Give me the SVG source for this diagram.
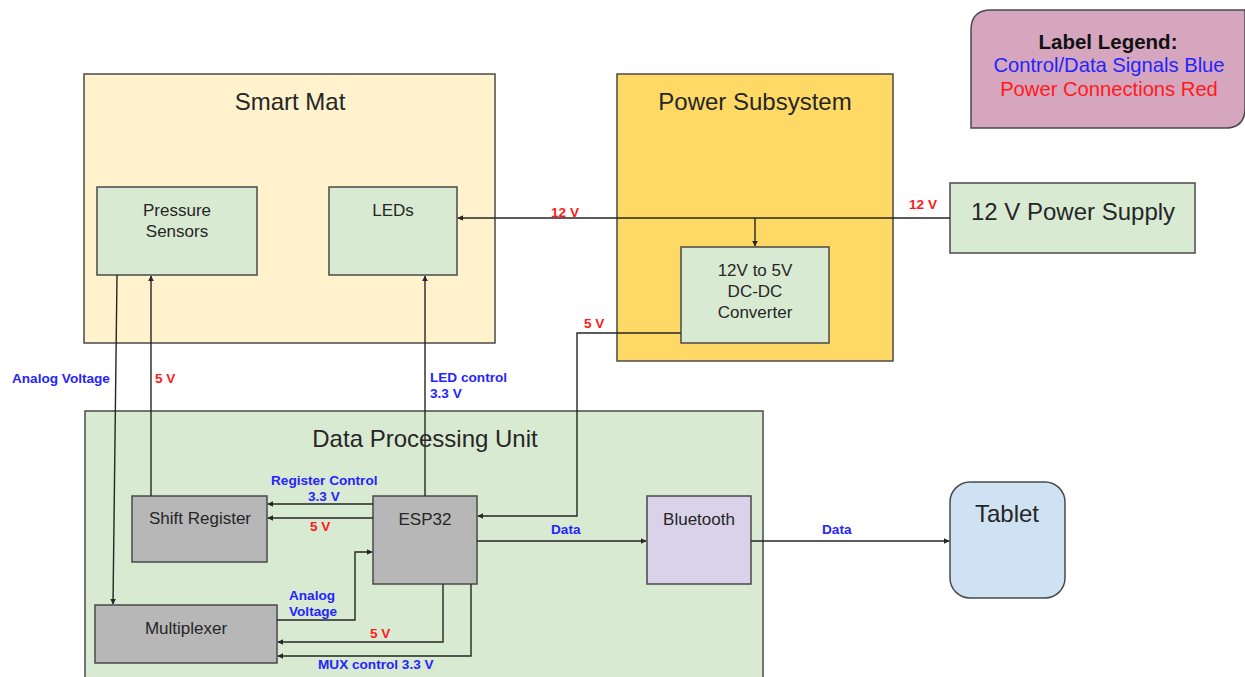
<svg xmlns="http://www.w3.org/2000/svg" width="1245" height="677" viewBox="0 0 1245 677">
<defs>
<style>
.box{stroke:#4a4a4a;stroke-width:1.5}
.t{font-family:"Liberation Sans",Arial,sans-serif;fill:#262626;text-anchor:middle}
.big{font-size:24px}
.mid{font-size:17px}
.lbl{font-family:"Liberation Sans",Arial,sans-serif;font-size:13.6px;font-weight:bold}
.blue{fill:#2424ff}
.red{fill:#ff1a1a}
.w{fill:none;stroke:#262626;stroke-width:1.4}
</style>
<marker id="ah" viewBox="0 0 10 10" refX="9" refY="5" markerWidth="6" markerHeight="6" orient="auto" markerUnits="userSpaceOnUse">
<path d="M0,0 L10,5 L0,10 z" fill="#262626"/>
</marker>
</defs>
<rect width="1245" height="677" fill="#ffffff"/>

<g id="smart-mat">
<rect class="box" x="84" y="74" width="411" height="269" fill="#fff2cc"/>
<text class="t big" x="290" y="110">Smart Mat</text>
</g>
<g id="power-subsystem">
<rect class="box" x="617" y="74" width="276" height="287" fill="#ffd966"/>
<text class="t big" x="755" y="110">Power Subsystem</text>
</g>
<g id="data-processing-unit">
<rect class="box" x="85" y="411" width="678" height="270" fill="#d9ead3"/>
<text class="t big" x="425" y="447">Data Processing Unit</text>
</g>
<g id="legend">
<path class="box" d="M991,10 H1245 V108 Q1245,128 1225,128 H971 V30 Q971,10 991,10 Z" fill="#d5a6bd"/>
<text class="t" x="1108" y="49" style="font-size:20.5px;font-weight:bold;fill:#111">Label Legend:</text>
<text class="t" x="1109" y="72" style="font-size:20.2px;fill:#2424ff">Control/Data Signals Blue</text>
<text class="t" x="1109" y="96" style="font-size:20.2px;fill:#ff1a1a">Power Connections Red</text>
</g>

<g id="pressure-sensors">
<rect class="box" x="97" y="187" width="160" height="88" fill="#d9ead3"/>
<text class="t mid" x="177" y="216">Pressure</text>
<text class="t mid" x="177" y="237">Sensors</text>
</g>
<g id="leds">
<rect class="box" x="329" y="187" width="128" height="88" fill="#d9ead3"/>
<text class="t mid" x="393" y="216">LEDs</text>
</g>
<g id="dc-dc-converter">
<rect class="box" x="681" y="247" width="148" height="96" fill="#d9ead3"/>
<text class="t mid" x="755" y="276">12V to 5V</text>
<text class="t mid" x="755" y="297">DC-DC</text>
<text class="t mid" x="755" y="318">Converter</text>
</g>
<g id="power-supply">
<rect class="box" x="950" y="183" width="245" height="70" fill="#d9ead3"/>
<text class="t big" x="1073" y="220">12 V Power Supply</text>
</g>
<g id="shift-register">
<rect class="box" x="132" y="496" width="135" height="66" fill="#b7b7b7"/>
<text class="t mid" x="200" y="524">Shift Register</text>
</g>
<g id="esp32">
<rect class="box" x="373" y="496" width="104" height="88" fill="#b7b7b7"/>
<text class="t mid" x="425" y="525">ESP32</text>
</g>
<g id="multiplexer">
<rect class="box" x="95" y="605" width="182" height="58" fill="#b7b7b7"/>
<text class="t mid" x="186" y="634">Multiplexer</text>
</g>
<g id="bluetooth">
<rect class="box" x="647" y="496" width="104" height="88" fill="#d9d2e9"/>
<text class="t mid" x="699" y="525">Bluetooth</text>
</g>
<g id="tablet">
<rect class="box" x="950" y="482" width="115" height="116" rx="20" fill="#cfe2f3"/>
<text class="t big" x="1007" y="522">Tablet</text>
</g>

<g id="connectors">
<path class="w" d="M950,218 H458" marker-end="url(#ah)"/>
<path class="w" d="M755,218 V246" marker-end="url(#ah)"/>
<path class="w" d="M681,333 H577 V516 H478" marker-end="url(#ah)"/>
<path class="w" d="M117,275 L113,604" marker-end="url(#ah)"/>
<path class="w" d="M151,496 V276" marker-end="url(#ah)"/>
<path class="w" d="M425,496 V276" marker-end="url(#ah)"/>
<path class="w" d="M373,504 H268" marker-end="url(#ah)"/>
<path class="w" d="M373,518 H268" marker-end="url(#ah)"/>
<path class="w" d="M277,620 H355 V552 H372" marker-end="url(#ah)"/>
<path class="w" d="M443,584 V642 H278" marker-end="url(#ah)"/>
<path class="w" d="M471,584 V656 H278" marker-end="url(#ah)"/>
<path class="w" d="M477,541 H646" marker-end="url(#ah)"/>
<path class="w" d="M751,541 H949" marker-end="url(#ah)"/>

<text class="lbl red" x="551" y="217">12 V</text>
<text class="lbl red" x="909" y="209">12 V</text>
<text class="lbl red" x="584" y="328">5 V</text>
<text class="lbl blue" x="12" y="383">Analog Voltage</text>
<text class="lbl red" x="155" y="383">5 V</text>
<text class="lbl blue" x="430" y="382">LED control</text>
<text class="lbl blue" x="430" y="398">3.3 V</text>
<text class="lbl blue" x="271" y="485">Register Control</text>
<text class="lbl blue" x="308" y="501">3.3 V</text>
<text class="lbl red" x="310" y="531">5 V</text>
<text class="lbl blue" x="289" y="600">Analog</text>
<text class="lbl blue" x="289" y="616">Voltage</text>
<text class="lbl red" x="370" y="638">5 V</text>
<text class="lbl blue" x="318" y="669">MUX control 3.3 V</text>
<text class="lbl blue" x="551" y="534">Data</text>
<text class="lbl blue" x="822" y="534">Data</text>
</g>
</svg>
